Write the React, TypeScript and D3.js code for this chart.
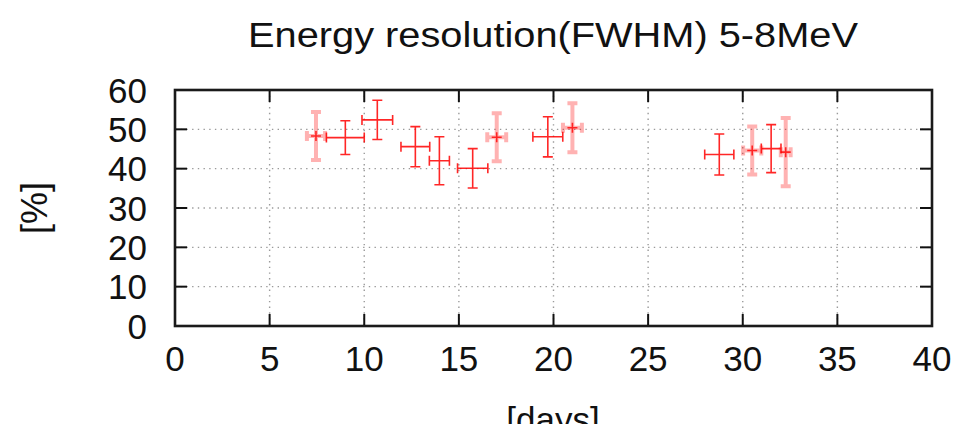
import React, { useEffect, useRef } from 'react';
import * as d3 from 'd3';

const days = [7.45, 9.0, 10.69, 12.7, 13.97, 15.73, 17.0, 19.7, 21.0, 28.76, 30.5, 31.5, 32.27];
const dayErr = [0.48, 1.0, 0.81, 0.76, 0.53, 0.8, 0.5, 0.79, 0.5, 0.77, 0.48, 0.52, 0.26];
const resolution = [48.3, 47.9, 52.4, 45.6, 42.0, 40.1, 48.0, 48.1, 50.4, 43.6, 44.6, 45.1, 44.2];
const resErr = [6.1, 4.3, 5.0, 5.1, 6.1, 5.0, 6.1, 5.1, 6.2, 5.2, 6.1, 6.1, 8.7];
const faded = [true, false, false, false, false, false, true, false, true, false, true, false, true];

const xTicks = [0, 5, 10, 15, 20, 25, 30, 35, 40];
const yTicks = [0, 10, 20, 30, 40, 50, 60];

const title = 'Energy resolution(FWHM) 5-8MeV';
const xLabel = '[days]';
const yLabel = '[%]';

const App: React.FC = () => {
    const svgRef = useRef<SVGSVGElement>(null);

    useEffect(() => {
        if (!svgRef.current) return;
        const width = 966;
        const height = 424;
        const left = 175, right = 932, top = 90, bottom = 326;
        const font = '"Liberation Sans", Arial, Helvetica, sans-serif';

        const svg = d3.select(svgRef.current);
        svg.selectAll('*').remove();
        svg.attr('width', width).attr('height', height);

        const x = d3.scaleLinear().domain([0, 40]).range([left, right]);
        const y = d3.scaleLinear().domain([0, 60]).range([bottom, top]);

        // grid
        const grid = svg.append('g')
            .attr('stroke', '#9a9a9a')
            .attr('stroke-width', 1.4)
            .attr('stroke-dasharray', '1.4,4.3');
        grid.selectAll('.gx')
            .data(xTicks.slice(1, -1))
            .enter()
            .append('line')
            .attr('x1', d => x(d)).attr('x2', d => x(d))
            .attr('y1', top).attr('y2', bottom);
        grid.selectAll('.gy')
            .data(yTicks.slice(1, -1))
            .enter()
            .append('line')
            .attr('x1', left).attr('x2', right)
            .attr('y1', d => y(d)).attr('y2', d => y(d));

        // ticks on all four sides, pointing inward
        const tickLen = 12;
        const ticks = svg.append('g').attr('stroke', '#111').attr('stroke-width', 2);
        xTicks.forEach(t => {
            ticks.append('line').attr('x1', x(t)).attr('x2', x(t)).attr('y1', bottom).attr('y2', bottom - tickLen);
            ticks.append('line').attr('x1', x(t)).attr('x2', x(t)).attr('y1', top).attr('y2', top + tickLen);
        });
        yTicks.forEach(t => {
            ticks.append('line').attr('x1', left).attr('x2', left + tickLen).attr('y1', y(t)).attr('y2', y(t));
            ticks.append('line').attr('x1', right).attr('x2', right - tickLen).attr('y1', y(t)).attr('y2', y(t));
        });

        // frame
        svg.append('rect')
            .attr('x', left).attr('y', top)
            .attr('width', right - left).attr('height', bottom - top)
            .attr('fill', 'none')
            .attr('stroke', '#1a1a1a')
            .attr('stroke-width', 2.6);

        // tick labels
        svg.append('g')
            .selectAll('text')
            .data(xTicks)
            .enter()
            .append('text')
            .attr('x', d => x(d))
            .attr('y', 371)
            .attr('text-anchor', 'middle')
            .style('font-family', font)
            .style('font-size', '35px')
            .style('fill', '#111')
            .text(d => d);
        svg.append('g')
            .selectAll('text')
            .data(yTicks)
            .enter()
            .append('text')
            .attr('x', 147)
            .attr('y', d => y(d))
            .attr('dy', '0.36em')
            .attr('text-anchor', 'end')
            .style('font-family', font)
            .style('font-size', '35px')
            .style('fill', '#111')
            .text(d => d);

        // title and axis labels
        svg.append('text')
            .attr('x', 553)
            .attr('y', 47)
            .attr('text-anchor', 'middle')
            .attr('textLength', 610)
            .attr('lengthAdjust', 'spacingAndGlyphs')
            .style('font-family', font)
            .style('font-size', '35px')
            .style('fill', '#111')
            .text(title);
        svg.append('text')
            .attr('x', 553)
            .attr('y', 432)
            .attr('text-anchor', 'middle')
            .style('font-family', font)
            .style('font-size', '35px')
            .style('fill', '#111')
            .text(xLabel);
        svg.append('text')
            .attr('transform', 'translate(47,208) rotate(-90)')
            .attr('text-anchor', 'middle')
            .style('font-family', font)
            .style('font-size', '36px')
            .style('fill', '#111')
            .text(yLabel);

        // error bars
        const cap = 5;
        const pts = days.map((d, i) => ({
            x: d, dx: dayErr[i], y: resolution[i], dy: resErr[i], faded: faded[i],
        }));
        const g = svg.append('g').attr('stroke', '#ff0000').attr('fill', 'none');
        pts.forEach(p => {
            const cx = x(p.x), cy = y(p.y);
            const x0 = x(p.x - p.dx), x1 = x(p.x + p.dx);
            const y0 = y(p.y - p.dy), y1 = y(p.y + p.dy);
            const path = d3.path();
            path.moveTo(x0, cy); path.lineTo(x1, cy);
            path.moveTo(x0, cy - cap); path.lineTo(x0, cy + cap);
            path.moveTo(x1, cy - cap); path.lineTo(x1, cy + cap);
            path.moveTo(cx, y0); path.lineTo(cx, y1);
            path.moveTo(cx - cap, y0); path.lineTo(cx + cap, y0);
            path.moveTo(cx - cap, y1); path.lineTo(cx + cap, y1);
            g.append('path')
                .attr('d', path.toString())
                .attr('stroke-width', p.faded ? 4 : 1.6)
                .attr('stroke-opacity', p.faded ? 0.3 : 0.85);
            if (p.faded) {
                g.append('path')
                    .attr('d', `M${cx - 5},${cy}H${cx + 5}M${cx},${cy - 5}V${cy + 5}`)
                    .attr('stroke-width', 1.6)
                    .attr('stroke-opacity', 0.8);
            }
        });
    }, []);

    return (
        <div style={{ position: 'absolute', left: 0, top: 0, background: '#fff' }}>
            <svg ref={svgRef} style={{ display: 'block' }}></svg>
        </div>
    );
};

export default App;
